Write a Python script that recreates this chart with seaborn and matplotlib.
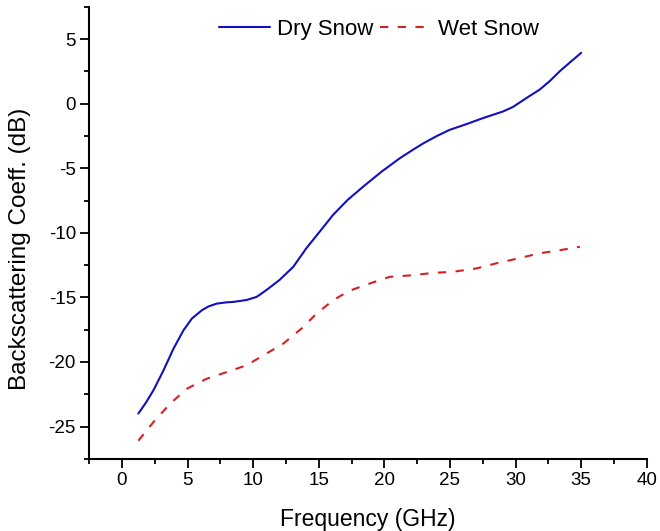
import matplotlib
matplotlib.use("Agg")
import matplotlib.pyplot as plt
import seaborn as sns
import pandas as pd
from matplotlib.ticker import MultipleLocator

dry_freq = [1.25, 1.8, 2.4, 3.17, 3.93, 4.69, 5.33, 6.09, 6.6, 7.23, 8.0, 8.5, 9.5, 10.27, 11.0,
            12.0, 13.06, 14.05, 15.0, 16.1, 17.2, 18.39, 19.8, 21.18, 22.2, 23.0, 24.0, 24.98,
            26.2, 27.52, 29.04, 29.8, 30.44, 31.1, 31.83, 32.6, 33.36, 34.2, 35.0]
dry_db = [-24.0, -23.2, -22.2, -20.65, -18.97, -17.55, -16.64, -16.0, -15.7, -15.48, -15.38,
          -15.35, -15.2, -14.96, -14.44, -13.66, -12.63, -11.2, -10.0, -8.6, -7.45, -6.42,
          -5.25, -4.22, -3.55, -3.05, -2.5, -2.02, -1.6, -1.11, -0.6, -0.25, 0.18, 0.62, 1.09,
          1.75, 2.51, 3.25, 3.94]

wet_freq = [1.25, 2.4, 3.67, 4.94, 6.47, 7.99, 9.5, 10.78, 12.3, 13.7, 14.84, 16.1, 17.3, 18.9,
            20.4, 22.19, 23.7, 25.2, 27.0, 28.5, 30.2, 31.8, 33.4, 34.9]
wet_db = [-26.1, -24.66, -23.24, -22.08, -21.3, -20.78, -20.26, -19.49, -18.58, -17.4, -16.25,
          -15.22, -14.5, -13.92, -13.41, -13.28, -13.1, -13.02, -12.76, -12.37, -11.98, -11.59,
          -11.34, -11.08]

x_ticks = [0, 5, 10, 15, 20, 25, 30, 35, 40]
y_ticks = [-25, -20, -15, -10, -5, 0, 5]

sns.set_style("ticks", {"text.color": "black", "axes.labelcolor": "black",
                        "xtick.color": "black", "ytick.color": "black",
                        "axes.edgecolor": "black"})
plt.rcParams["font.family"] = ["Liberation Sans", "DejaVu Sans"]
plt.rcParams["axes.unicode_minus"] = False

fig = plt.figure(figsize=(6.6, 5.31), dpi=100)
ax = fig.add_axes([0.135, 0.136, 0.845, 0.851])

dry = pd.DataFrame({"f": dry_freq, "v": dry_db})
wet = pd.DataFrame({"f": wet_freq, "v": wet_db})
sns.lineplot(data=dry, x="f", y="v", ax=ax, color="#1010c0", lw=1.5, label="Dry Snow")
sns.lineplot(data=wet, x="f", y="v", ax=ax, color="#d42222", lw=1.5, label="Wet Snow",
             dashes=False)
ax.lines[1].set_dashes((4, 4.5))

ax.set_xlim(-2.5, 40)
ax.set_ylim(-27.5, 7.5)
ax.set_xticks(x_ticks)
ax.set_yticks(y_ticks)
ax.xaxis.set_minor_locator(MultipleLocator(2.5))
ax.yaxis.set_minor_locator(MultipleLocator(2.5))
ax.tick_params(which="major", direction="out", length=6.5, width=1.3, labelsize=13.5,
               colors="black", pad=3)
ax.tick_params(which="minor", direction="out", length=3.5, width=1.3, colors="black")
for s in ["top", "right"]:
    ax.spines[s].set_visible(False)
for s in ["left", "bottom"]:
    ax.spines[s].set_linewidth(1.5)
    ax.spines[s].set_color("black")

ax.set_xlabel("Frequency (GHz)", fontsize=16.5, color="black")
ax.xaxis.set_label_coords(0.5, -0.108)
ax.xaxis.label.set_va("top")
ax.set_ylabel("Backscattering Coeff. (dB)", fontsize=17.5, color="black")
ax.yaxis.set_label_coords(-0.104, 0.465)

leg = ax.legend(loc="center", bbox_to_anchor=(0.52, 0.951), ncol=2, frameon=False, fontsize=16,
                handlelength=2.3, handletextpad=0.3, columnspacing=0.3, borderaxespad=0)
for t in leg.get_texts():
    t.set_color("black")

fig.savefig("out.png", dpi=100)
